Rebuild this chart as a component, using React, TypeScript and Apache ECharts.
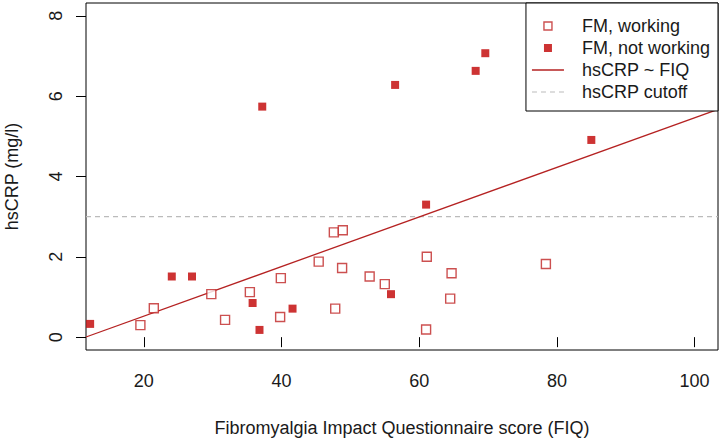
import React, { useEffect, useRef } from "react";
import * as echarts from "echarts";

// FIQ score / hsCRP (mg/l)
const workingX = [19.5, 21.45, 29.8, 31.8, 35.4, 39.9, 39.8, 45.4, 47.6, 48.9, 48.8, 47.8, 52.8, 55.0, 61.1, 64.7, 64.5, 61.0, 78.4];
const workingY = [0.30, 0.72, 1.07, 0.43, 1.12, 1.47, 0.50, 1.88, 2.61, 2.66, 1.72, 0.71, 1.51, 1.32, 2.00, 1.59, 0.96, 0.19, 1.82];
const notWorkingX = [12.2, 24.06, 27.0, 35.8, 36.8, 41.6, 37.2, 56.5, 68.2, 69.6, 85.0, 61.0, 55.9];
const notWorkingY = [0.33, 1.51, 1.51, 0.85, 0.18, 0.71, 5.74, 6.28, 6.63, 7.07, 4.91, 3.30, 1.07];

const regIntercept = -0.713;
const regSlope = 0.06177;
const cutoff = 3;

const xMin = 11.6;
const xMax = 103.4;
const yMin = -0.32;
const yMax = 8.32;
const xTicks = [20, 40, 60, 80, 100];
const yTicks = [0, 2, 4, 6, 8];

const legendNames = ["FM, working", "FM, not working", "hsCRP ~ FIQ", "hsCRP cutoff"];

const RED = "#c00000";
const OPEN_RED = "#bf2424";
const LINE_RED = "#b52222";
const GRAY = "#bbbbbb";
const FONT = "Liberation Sans, Arial, sans-serif";
const TXT = "#1a1a1a";

const SQUARE_ICON = "path://M0 0H8V8H0Z";
const SOLID_ICON = "path://M0 0H32V1.3H0Z";
const DASH_ICON = "path://M0 0H5V1.1H0Z M9 0H14V1.1H9Z M18 0H23V1.1H18Z M27 0H32V1.1H27Z";

export default function App() {
  const ref = useRef<HTMLDivElement>(null);
  useEffect(() => {
    if (!ref.current) return;
    const chart = echarts.init(ref.current, undefined, { renderer: "svg" });
    const working = workingX.map((x, i) => [x, workingY[i]]);
    const notWorking = notWorkingX.map((x, i) => [x, notWorkingY[i]]);
    const reg = [xMin, xMax].map((x) => [x, regIntercept + regSlope * x]);
    const cut = [xMin, xMax].map((x) => [x, cutoff]);
    chart.setOption({
      animation: false,
      textStyle: { fontFamily: FONT },
      grid: {
        left: 86,
        top: 3,
        right: 5,
        bottom: 93,
        containLabel: false,
        outerBoundsMode: "none",
        show: true,
        borderColor: "#000",
        borderWidth: 1,
        backgroundColor: "#fff",
      },
      legend: {
        orient: "vertical",
        right: 5,
        top: 3,
        padding: [14, 8, 10, 6],
        itemGap: 4,
        itemWidth: 32,
        itemHeight: 8,
        symbolKeepAspect: true,
        borderColor: "#000",
        borderWidth: 1,
        borderRadius: 0,
        backgroundColor: "#fff",
        data: [
          {
            name: legendNames[0],
            icon: SQUARE_ICON,
            itemStyle: { color: "#fff", borderColor: OPEN_RED, borderWidth: 1.4 },
          },
          { name: legendNames[1], icon: SQUARE_ICON, itemStyle: { color: RED, borderWidth: 0 } },
          { name: legendNames[2], icon: SOLID_ICON, itemStyle: { color: LINE_RED, borderWidth: 0 } },
          { name: legendNames[3], icon: DASH_ICON, itemStyle: { color: GRAY, borderWidth: 0 } },
        ],
        textStyle: { fontSize: 18, color: TXT, fontFamily: FONT, padding: [0, 0, 0, 13] },
      },
      xAxis: {
        type: "value",
        min: xMin,
        max: xMax,
        name: "Fibromyalgia Impact Questionnaire score (FIQ)",
        nameLocation: "middle",
        nameGap: 69,
        nameTextStyle: { fontSize: 18, color: TXT, fontFamily: FONT },
        axisLine: { show: false },
        splitLine: { show: false },
        axisTick: { show: true, length: 10, lineStyle: { color: "#000" }, customValues: xTicks },
        axisLabel: { fontSize: 18, color: TXT, margin: 22, customValues: xTicks },
      },
      yAxis: {
        type: "value",
        min: yMin,
        max: yMax,
        name: "hsCRP (mg/l)",
        nameLocation: "middle",
        nameRotate: 90,
        nameGap: 65,
        nameTextStyle: { fontSize: 18, color: TXT, fontFamily: FONT },
        axisLine: { show: false },
        splitLine: { show: false },
        axisTick: { show: true, length: 10, lineStyle: { color: "#000" }, customValues: yTicks },
        axisLabel: { fontSize: 18, color: TXT, margin: 21, rotate: 90, customValues: yTicks },
      },
      series: [
        {
          name: legendNames[3],
          type: "line",
          data: cut,
          showSymbol: false,
          symbol: "none",
          lineStyle: { color: GRAY, width: 1.2, type: [5, 4] },
          itemStyle: { color: GRAY },
          z: 1,
        },
        {
          name: legendNames[2],
          type: "line",
          data: reg,
          showSymbol: false,
          symbol: "none",
          lineStyle: { color: LINE_RED, width: 1.3 },
          itemStyle: { color: LINE_RED },
          z: 2,
        },
        {
          name: legendNames[0],
          type: "scatter",
          data: working,
          symbol: "rect",
          symbolSize: 9,
          itemStyle: { color: "#fff", borderColor: OPEN_RED, borderWidth: 1.4 },
          z: 3,
        },
        {
          name: legendNames[1],
          type: "scatter",
          data: notWorking,
          symbol: "rect",
          symbolSize: 8,
          itemStyle: { color: RED },
          z: 4,
        },
      ],
    });
    return () => chart.dispose();
  }, []);
  return (
    <div
      ref={ref}
      style={{ position: "fixed", left: 0, top: 0, width: 723, height: 443, background: "#fff" }}
    />
  );
}
